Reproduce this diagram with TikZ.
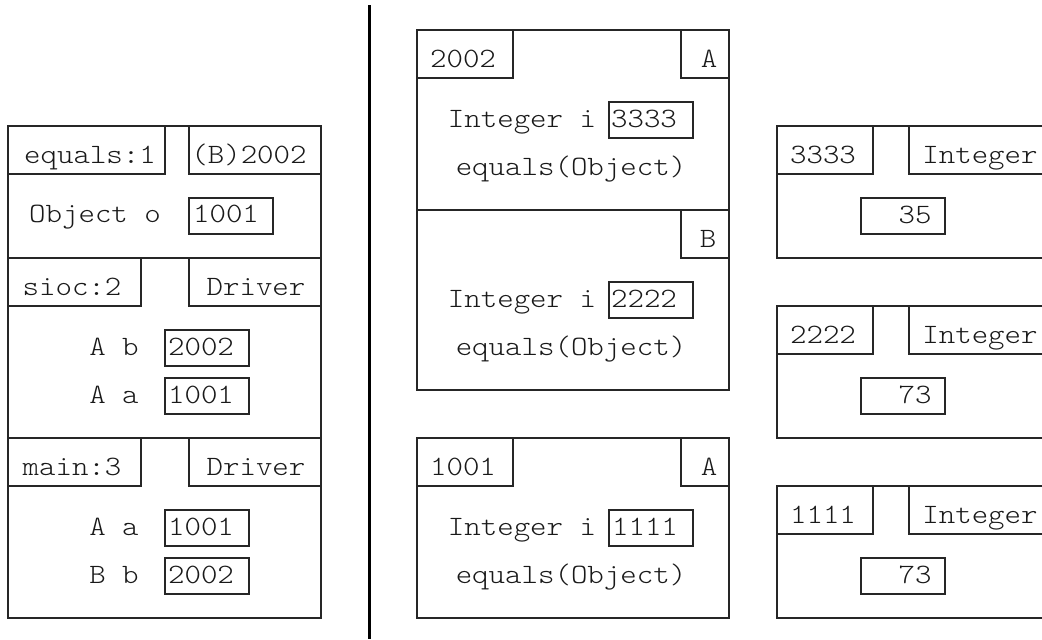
\documentclass[tikz,border=0pt]{standalone}
\usepackage{fontspec}
\setmonofont[FakeStretch=1.12]{Latin Modern Mono Light}
\usetikzlibrary{fit}
\begin{document}
\begin{tikzpicture}[x=0.75pt,y=-0.75pt,
  box/.style={draw=black!85, line width=1pt, inner sep=0pt, fit={#1}},
  lbl/.style={font=\ttfamily\fontsize{21}{24}\selectfont, inner sep=0pt, anchor=base, text=black!90},
  divider/.style={draw=black, line width=2.25pt},
]
\useasboundingbox (0,0) rectangle (1042,639);
\clip (0,0) rectangle (1042,639);

% ---------------- call stack ----------------
% frame equals:1
\node[box={(8,126) (321,258)}] (eqF) {};
\node[box={(8,126) (165,174)}] (eqH1) {};
\node[box={(189,126) (321,174)}] (eqH2) {};
\node[box={(189,198) (273,234)}] (eqV) {};
\node[lbl] (eqT1) at (90,163) {equals:1};
\node[lbl] (eqT2) at (249,163) {(B)2002};
\node[lbl] (eqT3) at (95,222) {Object o};
\node[lbl] (eqT4) at (226,222) {1001};

% frame sioc:2
\node[box={(8,258) (321,438)}] (siF) {};
\node[box={(8,258) (141,306)}] (siH1) {};
\node[box={(189,258) (321,306)}] (siH2) {};
\node[box={(165,330) (249,366)}] (siV1) {};
\node[box={(165,378) (249,414)}] (siV2) {};
\node[lbl] (siT1) at (72,295) {sioc:2};
\node[lbl] (siT2) at (256,295) {Driver};
\node[lbl] (siT3) at (114,355) {A b};
\node[lbl] (siT4) at (201,355) {2002};
\node[lbl] (siT5) at (114,403) {A a};
\node[lbl] (siT6) at (201,403) {1001};

% frame main:3
\node[box={(8,438) (321,618)}] (mnF) {};
\node[box={(8,438) (141,486)}] (mnH1) {};
\node[box={(189,438) (321,486)}] (mnH2) {};
\node[box={(165,510) (249,546)}] (mnV1) {};
\node[box={(165,558) (249,594)}] (mnV2) {};
\node[lbl] (mnT1) at (72,475) {main:3};
\node[lbl] (mnT2) at (256,475) {Driver};
\node[lbl] (mnT3) at (114,535) {A a};
\node[lbl] (mnT4) at (201,535) {1001};
\node[lbl] (mnT5) at (114,583) {B b};
\node[lbl] (mnT6) at (201,583) {2002};

% stack / heap divider
\coordinate (dTop) at (369,5);
\coordinate (dBot) at (369,639);
\draw[divider] (dTop) -- (dBot);

% ---------------- heap objects ----------------
% object 2002 (A part and B part)
\node[box={(417,30) (729,210)}] (o2A) {};
\node[box={(417,210) (729,390)}] (o2B) {};
\node[box={(417,30) (513,78)}] (o2H) {};
\node[box={(681,30) (729,78)}] (o2CA) {};
\node[box={(681,210) (729,258)}] (o2CB) {};
\node[box={(609,102) (693,138)}] (o2V1) {};
\node[box={(609,282) (693,318)}] (o2V2) {};
\node[lbl] (o2T1) at (463,67) {2002};
\node[lbl] (o2T2) at (709,67) {A};
\node[lbl] (o2T3) at (522,127) {Integer i};
\node[lbl] (o2T4) at (644,127) {3333};
\node[lbl] (o2T5) at (571,175) {equals(Object)};
\node[lbl] (o2T6) at (708,247) {B};
\node[lbl] (o2T7) at (522,307) {Integer i};
\node[lbl] (o2T8) at (644,307) {2222};
\node[lbl] (o2T9) at (571,355) {equals(Object)};

% object 1001
\node[box={(417,438) (729,618)}] (o1F) {};
\node[box={(417,438) (513,486)}] (o1H) {};
\node[box={(681,438) (729,486)}] (o1C) {};
\node[box={(609,510) (693,546)}] (o1V) {};
\node[lbl] (o1T1) at (463,475) {1001};
\node[lbl] (o1T2) at (709,475) {A};
\node[lbl] (o1T3) at (522,535) {Integer i};
\node[lbl] (o1T4) at (645,535) {1111};
\node[lbl] (o1T5) at (571,583) {equals(Object)};

% Integer objects
\node[box={(777,126) (1060,258)}] (i3F) {};
\node[box={(777,126) (873,174)}] (i3H) {};
\node[box={(909,126) (1060,174)}] (i3C) {};
\node[box={(861,198) (945,234)}] (i3V) {};
\node[lbl] (i3T1) at (823,163) {3333};
\node[lbl] (i3T2) at (980,163) {Integer};
\node[lbl] (i3T3) at (915,223) {35};

\node[box={(777,306) (1060,438)}] (i2F) {};
\node[box={(777,306) (873,354)}] (i2H) {};
\node[box={(909,306) (1060,354)}] (i2C) {};
\node[box={(861,378) (945,414)}] (i2V) {};
\node[lbl] (i2T1) at (823,343) {2222};
\node[lbl] (i2T2) at (980,343) {Integer};
\node[lbl] (i2T3) at (915,403) {73};

\node[box={(777,486) (1060,618)}] (i1F) {};
\node[box={(777,486) (873,534)}] (i1H) {};
\node[box={(909,486) (1060,534)}] (i1C) {};
\node[box={(861,558) (945,594)}] (i1V) {};
\node[lbl] (i1T1) at (823,523) {1111};
\node[lbl] (i1T2) at (980,523) {Integer};
\node[lbl] (i1T3) at (915,583) {73};
\end{tikzpicture}
\end{document}
